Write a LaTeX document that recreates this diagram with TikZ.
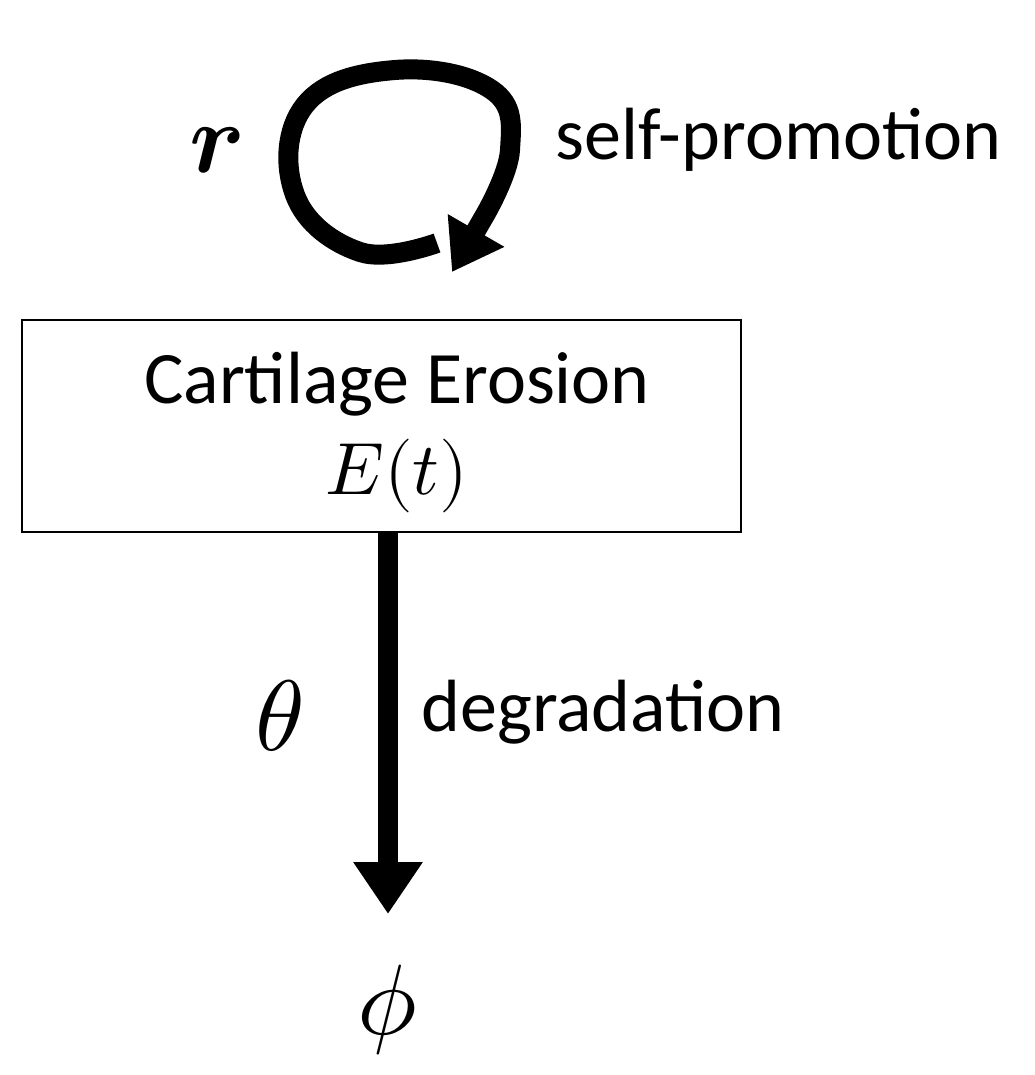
\documentclass[tikz,border=0pt]{standalone}
\usepackage{fontspec}
\usepackage{unicode-math}
\setmainfont{Carlito}
\setmathfont{Latin Modern Math}
\usetikzlibrary{arrows.meta}
\begin{document}
\begin{tikzpicture}[x=1pt,y=-1pt,
  lbl/.style={font=\fontsize{74}{80}\selectfont},
  sym/.style={font=\fontsize{100}{110}\selectfont},
  thick arrow/.style={line width=20pt,-{Triangle[length=52pt,width=66pt]}}]
\useasboundingbox (0,0) rectangle (1034,1075);
\node[draw,line width=2.5pt,minimum width=719pt,minimum height=212pt,inner sep=0pt] (box) at (381.5,426) {};
\node[lbl] (t1) at (397,384) {Cartilage Erosion};
\node[lbl] (t2) at (397,476) {$E(t)$};
\coordinate (phiTop) at (388,914);
\draw[thick arrow] (box.south -| phiTop) -- (phiTop);
\node[sym] (theta) at (280,716) {$\theta$};
\node[lbl,anchor=west] (deg) at (418,712) {degradation};
\node[sym] (phi) at (388,1010) {$\phi$};
\node[sym] (r) at (216,150) {$\symbfit{r}$};
\node[lbl,anchor=west] (sp) at (552,140) {self-promotion};
\coordinate (loopend) at (452,272);
\draw[line width=20pt,-{Triangle[length=48pt,width=62pt]}] plot[smooth,tension=0.7] coordinates {(437,243) (360,252) (295,195) (305,105) (395,70) (492,90) (510,150) (485,215)} -- (loopend);
\end{tikzpicture}
\end{document}
